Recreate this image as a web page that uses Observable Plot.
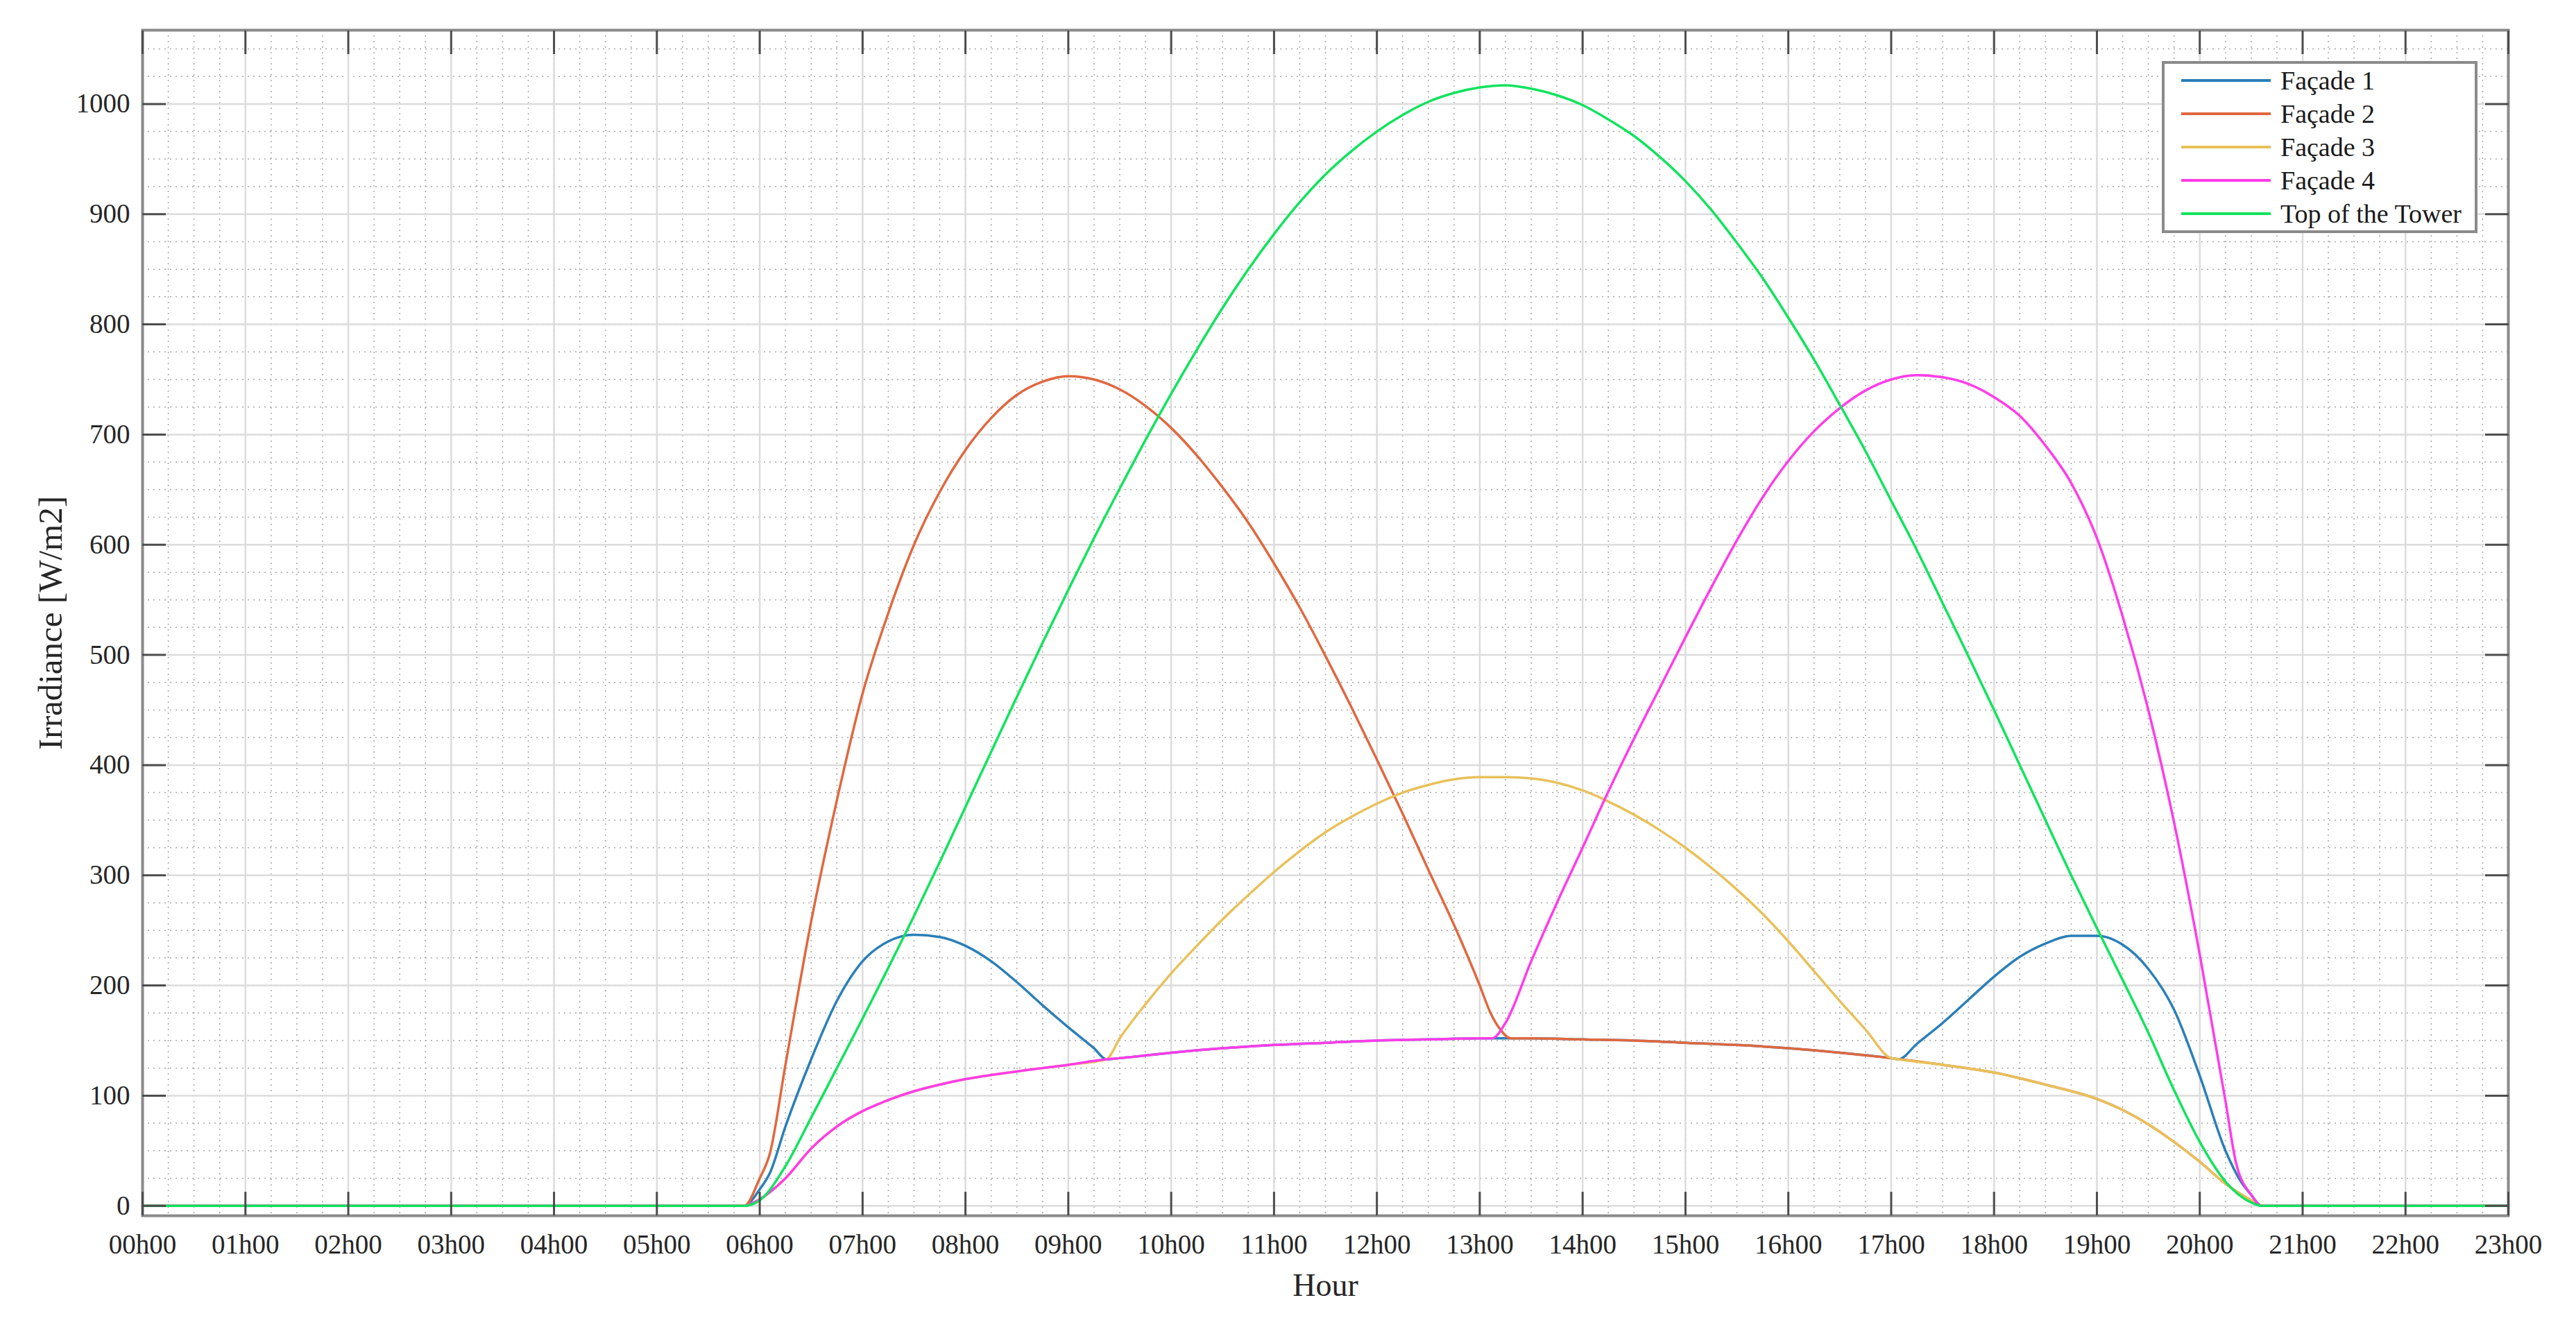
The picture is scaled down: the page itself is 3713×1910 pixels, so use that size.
<!DOCTYPE html>
<html>
<head>
<meta charset="utf-8">
<script src="https://cdn.jsdelivr.net/npm/d3@7"></script>
<script src="https://cdn.jsdelivr.net/npm/@observablehq/plot@0.6"></script>
<style>
  html, body { margin: 0; padding: 0; background: #ffffff; }
  #wrap { position: relative; width: 3713px; height: 1910px; font-family: "Liberation Serif", "Times New Roman", serif; }
  #legend { position: absolute; left: 3116px; top: 88px; width: 455px; height: 248px; box-sizing: border-box;
            border: 4px solid #8a8a8a; background: #ffffff; }
  .row { position: relative; height: 48px; }
  .sw { position: absolute; left: 24px; top: 22px; width: 129px; height: 4px; }
  .lt { position: absolute; left: 167px; top: 0; line-height: 48px; font-size: 38px; color: #1a1a1a; white-space: nowrap; }
</style>
</head>
<body>
<div id="wrap"><div id="chart"></div><div id="legend"></div></div>
<script>
// ---- series names & colours ----
const seriesNames = ["Façade 1", "Façade 2", "Façade 3", "Façade 4", "Top of the Tower"];
const seriesColors = ["#2a7fb8", "#e0683f", "#e8c15a", "#ff3ce8", "#12e35e"];

// ---- axis ticks ----
const xTicks = d3.range(0, 24);
const xLabels = xTicks.map(h => String(h).padStart(2, "0") + "h00");
const yTicks = d3.range(0, 1001, 100);
const xMinor = d3.range(0, 23.01, 0.25);
const yMinor = d3.range(0, 1067, 25);

// ---- Façade 1 ----
const f1Hours = [0, 5.85, 6.0, 6.1, 6.25, 6.5, 6.75, 7.0, 7.25, 7.5, 7.75, 8.0, 8.25, 8.5, 8.75, 9.0, 9.25, 9.37, 9.5, 10.0, 10.5, 11.0, 11.5, 12.0, 12.5, 13.0, 13.5, 14.0, 14.5, 15.0, 15.5, 16.0, 16.5, 17.0, 17.07, 17.25, 17.5, 17.75, 18.0, 18.25, 18.5, 18.75, 19.0, 19.25, 19.5, 19.75, 20.0, 20.25, 20.4, 20.5, 20.6, 23];
const f1Values = [0, 0, 15, 30, 72, 133, 186, 222, 240, 246, 244, 236, 222, 203, 182, 162, 143, 133, 134, 139, 143, 146, 148, 150, 151, 152, 152, 151, 150, 148, 146, 143, 139, 134, 133, 147, 166, 187, 208, 226, 238, 245, 245, 237, 215, 178, 118, 50, 22, 10, 0, 0];

// ---- Façade 2 ----
const f2Hours = [0, 5.85, 6.0, 6.1, 6.25, 6.5, 6.75, 7.0, 7.25, 7.5, 7.75, 8.0, 8.25, 8.5, 8.75, 9.0, 9.25, 9.5, 9.75, 10.0, 10.25, 10.5, 10.75, 11.0, 11.25, 11.5, 11.75, 12.0, 12.25, 12.5, 12.75, 13.0, 13.1, 13.2, 13.3, 13.5, 14.0, 14.5, 15.0, 15.5, 16.0, 16.5, 17.0, 17.5, 18.0, 18.5, 19.0, 19.25, 19.5, 19.75, 20.0, 20.25, 20.5, 20.6, 23];
const f2Values = [0, 0, 25, 48, 128, 258, 368, 465, 538, 600, 648, 686, 715, 736, 748, 753, 750, 741, 726, 706, 681, 652, 620, 583, 543, 499, 453, 405, 356, 305, 255, 200, 176, 160, 152, 152, 151, 150, 148, 146, 143, 139, 134, 128, 121, 110, 97, 87, 74, 58, 40, 20, 5, 0, 0];

// ---- Façade 3 ----
const f3Hours = [0, 5.85, 6.0, 6.25, 6.5, 6.75, 7.0, 7.25, 7.5, 7.75, 8.0, 8.5, 9.0, 9.37, 9.5, 9.75, 10.0, 10.25, 10.5, 10.75, 11.0, 11.25, 11.5, 11.75, 12.0, 12.25, 12.5, 12.75, 13.0, 13.25, 13.5, 13.75, 14.0, 14.25, 14.5, 14.75, 15.0, 15.25, 15.5, 15.75, 16.0, 16.25, 16.5, 16.75, 17.0, 17.07, 17.5, 18.0, 18.5, 19.0, 19.25, 19.5, 19.75, 20.0, 20.25, 20.5, 20.6, 23];
const f3Values = [0, 0, 6, 25, 52, 72, 86, 96, 104, 110, 115, 122, 128, 133, 152, 183, 211, 236, 260, 282, 303, 322, 339, 353, 365, 375, 382, 387, 389, 389, 388, 384, 377, 367, 355, 341, 325, 307, 287, 265, 240, 213, 186, 160, 134, 133, 128, 121, 110, 97, 87, 74, 58, 40, 20, 5, 0, 0];

// ---- Façade 4 ----
const f4Hours = [0, 5.85, 6.0, 6.25, 6.5, 6.75, 7.0, 7.25, 7.5, 7.75, 8.0, 8.5, 9.0, 9.37, 9.5, 10.0, 10.5, 11.0, 11.5, 12.0, 12.5, 13.0, 13.12, 13.25, 13.5, 13.75, 14.0, 14.25, 14.5, 14.75, 15.0, 15.25, 15.5, 15.75, 16.0, 16.25, 16.5, 16.75, 17.0, 17.25, 17.5, 17.75, 18.0, 18.25, 18.5, 18.75, 19.0, 19.25, 19.5, 19.75, 20.0, 20.25, 20.35, 20.5, 20.6, 23];
const f4Values = [0, 0, 6, 25, 52, 72, 86, 96, 104, 110, 115, 122, 128, 133, 134, 139, 143, 146, 148, 150, 151, 152, 152, 166, 222, 275, 325, 376, 424, 470, 516, 561, 604, 643, 676, 703, 724, 740, 750, 754, 752, 746, 734, 717, 690, 656, 606, 535, 450, 348, 228, 95, 40, 10, 0, 0];

// ---- Top of the Tower ----
const topHours = [0, 5.85, 6.0, 6.25, 6.5, 6.75, 7.0, 7.25, 7.5, 7.75, 8.0, 8.25, 8.5, 8.75, 9.0, 9.25, 9.5, 9.75, 10.0, 10.25, 10.5, 10.75, 11.0, 11.25, 11.5, 11.75, 12.0, 12.25, 12.5, 12.75, 13.0, 13.25, 13.5, 13.75, 14.0, 14.25, 14.5, 14.75, 15.0, 15.25, 15.5, 15.75, 16.0, 16.25, 16.5, 16.75, 17.0, 17.25, 17.5, 17.75, 18.0, 18.25, 18.5, 18.75, 19.0, 19.25, 19.5, 19.75, 20.0, 20.25, 20.5, 20.6, 23];
const topValues = [0, 0, 5, 36, 80, 125, 170, 216, 263, 312, 362, 412, 462, 511, 559, 606, 651, 695, 737, 777, 815, 850, 882, 911, 936, 957, 975, 990, 1002, 1010, 1015, 1017, 1014, 1008, 999, 986, 971, 952, 930, 904, 874, 842, 806, 768, 727, 685, 640, 595, 547, 499, 450, 400, 350, 300, 252, 205, 157, 105, 58, 22, 3, 0, 0];

const seriesHours = [f1Hours, f2Hours, f3Hours, f4Hours, topHours];
const seriesValues = [f1Values, f2Values, f3Values, f4Values, topValues];

const rows = [];
seriesNames.forEach((name, s) => {
  seriesHours[s].forEach((h, i) => rows.push({series: name, hour: h, value: seriesValues[s][i]}));
});

const tickStroke = "#4d4d4d";
const textColor = "#262626";

const chart = Plot.plot({
  width: 3713,
  height: 1910,
  marginLeft: 205,
  marginRight: 98,
  marginTop: 43,
  marginBottom: 158,
  style: {fontFamily: "'Liberation Serif', 'Times New Roman', serif", fontSize: "39px", color: textColor, background: "#ffffff"},
  x: {domain: [0, 23]},
  y: {domain: [-9, 1067]},
  color: {domain: seriesNames, range: seriesColors},
  marks: [
    Plot.ruleX(xMinor, {stroke: "#a8a8a8", strokeWidth: 1.5, strokeDasharray: "2,6"}),
    Plot.ruleY(yMinor, {stroke: "#a8a8a8", strokeWidth: 1.5, strokeDasharray: "2,6"}),
    Plot.ruleX(xTicks, {stroke: "#dcdcdc", strokeWidth: 2.5}),
    Plot.ruleY(yTicks, {stroke: "#dcdcdc", strokeWidth: 2.5}),
    Plot.line(rows, {x: "hour", y: "value", z: "series", stroke: "series", strokeWidth: 3.5, curve: "monotone-x"}),
    Plot.frame({stroke: "#8a8a8a", strokeWidth: 4}),
    Plot.axisX(xTicks, {anchor: "bottom", tickSize: -34, fill: "none", stroke: tickStroke, strokeWidth: 3, label: null}),
    Plot.axisX(xTicks, {anchor: "top", tickSize: -34, fill: "none", stroke: tickStroke, strokeWidth: 3, label: null}),
    Plot.axisY(yTicks, {anchor: "left", tickSize: -34, fill: "none", stroke: tickStroke, strokeWidth: 3, label: null}),
    Plot.axisY(yTicks, {anchor: "right", tickSize: -34, fill: "none", stroke: tickStroke, strokeWidth: 3, label: null}),
    Plot.axisX(xTicks, {anchor: "bottom", tickSize: 0, tickPadding: 27, tickFormat: h => xLabels[h], fontSize: 39, fill: textColor, label: null}),
    Plot.axisY(yTicks, {anchor: "left", tickSize: 0, tickPadding: 18, tickFormat: d => String(d), fontSize: 39, fill: textColor, label: null}),
    Plot.text(["Hour"], {frameAnchor: "bottom", textAnchor: "middle", dy: 101, fontSize: 46, lineAnchor: "middle", fill: textColor}),
    Plot.text(["Irradiance [W/m2]"], {frameAnchor: "left", textAnchor: "middle", dx: -132, rotate: -90, fontSize: 49, lineAnchor: "middle", fill: textColor})
  ]
});
document.getElementById("chart").appendChild(chart);

// ---- legend (inside the axes, top right) ----
const legend = document.getElementById("legend");
seriesNames.forEach((name, i) => {
  const row = document.createElement("div");
  row.className = "row";
  const sw = document.createElement("div");
  sw.className = "sw";
  sw.style.background = seriesColors[i];
  const lt = document.createElement("div");
  lt.className = "lt";
  lt.textContent = name;
  row.appendChild(sw);
  row.appendChild(lt);
  legend.appendChild(row);
});
</script>
</body>
</html>
